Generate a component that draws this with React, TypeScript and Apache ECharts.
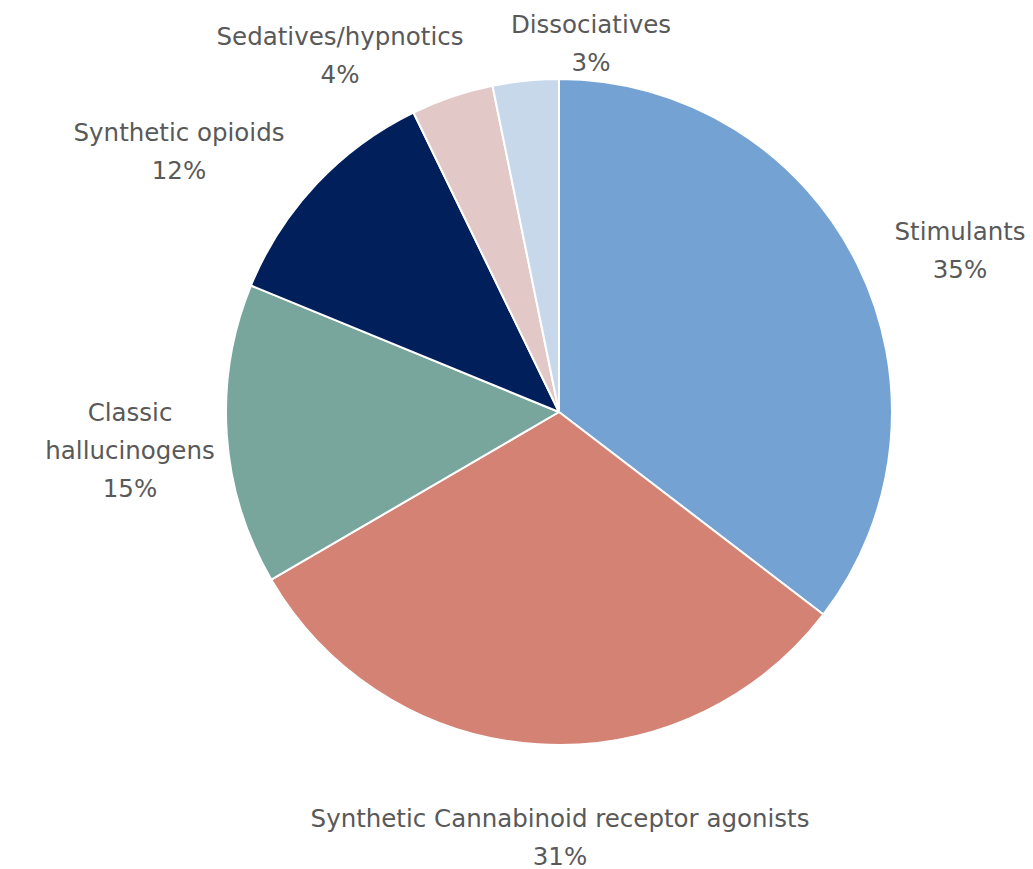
import React, { useEffect, useRef } from "react";
import * as echarts from "echarts";

const categories = [
  "Stimulants",
  "Synthetic Cannabinoid receptor agonists",
  "Classic hallucinogens",
  "Synthetic opioids",
  "Sedatives/hypnotics",
  "Dissociatives",
];
const labelNames = [
  "Stimulants",
  "Synthetic Cannabinoid receptor agonists",
  "Classic\nhallucinogens",
  "Synthetic opioids",
  "Sedatives/hypnotics",
  "Dissociatives",
];
const values = [35.4, 31.2, 14.6, 11.6, 4.0, 3.2];
const colors = ["#74A3D3", "#D48274", "#78A69C", "#001F5B", "#E2C9C8", "#C8D8EB"];

// label anchor points (layout only)
const labelPos = [
  [960, 250],
  [560, 830],
  [130, 450],
  [179, 151],
  [340, 55],
  [591, 43],
];

const FONT = "'DejaVu Sans', sans-serif";
const FS = 24.5;

export default function App() {
  const ref = useRef<HTMLDivElement>(null);
  useEffect(() => {
    const chart = echarts.init(ref.current!, null, { renderer: "svg" });
    chart.setOption({
      animation: false,
      backgroundColor: "#ffffff",
      series: [
        {
          type: "pie",
          center: [559, 412],
          radius: 333,
          startAngle: 90,
          clockwise: true,
          data: categories.map((c, i) => ({
            name: c,
            value: values[i],
            itemStyle: { color: colors[i] },
          })),
          itemStyle: { borderColor: "#ffffff", borderWidth: 2 },
          label: {
            show: true,
            position: "outside",
            overflow: "none",
            edgeDistance: 0,
            formatter: (p: any) =>
              p.dataIndex === 1
                ? `{a|${labelNames[p.dataIndex]}}\n{b|${Math.round(p.value)}%}`
                : `${labelNames[p.dataIndex]}\n${Math.round(p.value)}%`,
            color: "#595959",
            fontFamily: FONT,
            fontSize: FS,
            lineHeight: 38,
            align: "center",
            rich: {
              a: { color: "#595959", fontFamily: FONT, fontSize: FS, lineHeight: 52 },
              b: { color: "#595959", fontFamily: FONT, fontSize: FS, lineHeight: 24 },
            },
          },
          labelLine: { show: false },
          labelLayout: (params: any) => ({
            x: labelPos[params.dataIndex][0],
            y: labelPos[params.dataIndex][1],
            align: "center",
            verticalAlign: "middle",
          }),
        },
      ],
    });
    return () => chart.dispose();
  }, []);
  return (
    <div
      ref={ref}
      style={{ position: "fixed", left: 0, top: 0, width: 1033, height: 869 }}
    />
  );
}
